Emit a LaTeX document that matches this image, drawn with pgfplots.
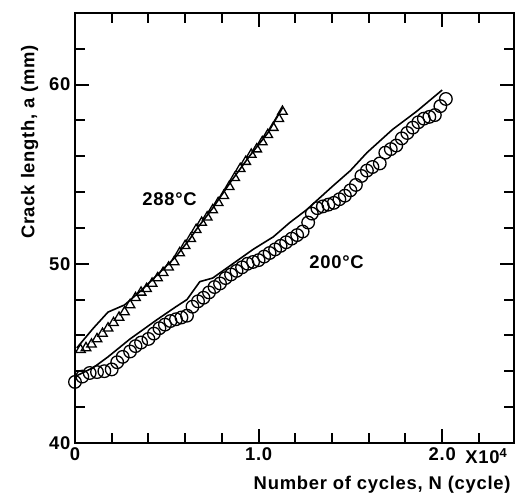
\documentclass[border=0pt]{standalone}
\usepackage{fontspec}
\setmainfont{Liberation Sans}[LetterSpace=4]
\usepackage{pgfplots}
\pgfplotsset{compat=1.18}
\newcommand{\lblfont}{\fontsize{18.5}{22}\selectfont\bfseries}
\begin{document}
\begin{tikzpicture}
\begin{axis}[
  name=ax,
  scale only axis, width=439bp, height=430bp,
  xmin=0, xmax=2.39, ymin=40, ymax=64,
  clip=false,
  axis line style={line width=2.4pt},
  xtick={0,0.2,0.4,0.6,0.8,1.0,1.2,1.4,1.6,1.8,2.0,2.2},
  xticklabels={0,,,,,1.0,,,,,2.0,},
  ytick={40,42,44,46,48,50,52,54,56,58,60,62},
  yticklabels={40,,,,,50,,,,,60,},
  extra x ticks={1.0,2.0}, extra x tick labels={},
  extra y ticks={50,60}, extra y tick labels={},
  extra tick style={major tick length=14bp},
  tick align=inside,
  major tick length=10bp,
  xtick style={line width=2pt, black},
  ytick style={line width=2pt, black},
  /pgf/number format/assume math mode=true,
  tick label style={font=\lblfont},
  xticklabel style={yshift=-1bp},
  yticklabel style={xshift=-1bp},
  xlabel={Number of cycles, N (cycle)},
  ylabel={Crack length, a (mm)},
  label style={font=\lblfont},
  xlabel style={at={(ticklabel cs:0.70)}, anchor=north, yshift=-9bp},
  ylabel style={at={(ticklabel cs:0.70)}, anchor=south, yshift=4bp},
]
% 288 C measured (triangles)
\addplot[only marks, mark=triangle, mark size=5.5bp, mark options={line width=1.3pt, fill=white}] coordinates {
(0.03,45.2)(0.06,45.3)(0.09,45.5)(0.12,45.8)(0.15,46.1)(0.18,46.4)(0.21,46.7)
(0.24,47.0)(0.27,47.3)(0.30,47.7)(0.33,48.1)(0.36,48.4)(0.39,48.6)(0.42,48.9)
(0.45,49.2)(0.48,49.5)(0.51,49.8)(0.54,50.1)(0.57,50.6)(0.60,51.0)(0.63,51.4)
(0.66,51.9)(0.69,52.3)(0.72,52.6)(0.75,53.0)(0.78,53.4)(0.81,53.8)(0.84,54.3)
(0.87,54.8)(0.90,55.3)(0.93,55.7)(0.96,56.1)(0.99,56.4)(1.02,56.8)(1.05,57.2)
(1.08,57.6)(1.11,58.1)(1.13,58.5)
};
% 288 C prediction
\addplot[black, line width=1.6pt] coordinates {
(0.01,45.3)(0.10,46.4)(0.18,47.3)(0.27,47.7)(0.36,48.5)(0.45,49.4)(0.49,49.8)
(0.55,50.4)(0.58,50.8)(0.62,51.3)(0.66,51.9)(0.75,53.1)(0.85,54.6)(0.95,56.0)
(1.05,57.3)(1.13,58.7)
};
% 200 C measured (circles)
\addplot[only marks, mark=o, mark size=6.3bp, mark options={line width=1.3pt, fill=white}] coordinates {
(0.00,43.4)(0.04,43.7)(0.08,43.9)(0.12,43.95)(0.16,44.0)(0.20,44.1)(0.23,44.5)
(0.26,44.8)(0.30,45.1)(0.33,45.4)(0.36,45.6)(0.40,45.8)(0.43,46.1)(0.46,46.4)
(0.49,46.6)(0.52,46.8)(0.55,46.9)(0.58,47.0)(0.61,47.1)(0.64,47.6)(0.67,47.9)
(0.70,48.1)(0.73,48.4)(0.76,48.7)(0.79,48.9)(0.82,49.2)(0.85,49.4)(0.88,49.6)
(0.91,49.8)(0.94,50.0)(0.97,50.1)(1.00,50.2)(1.03,50.4)(1.06,50.6)(1.09,50.8)
(1.12,51.0)(1.15,51.2)(1.18,51.4)(1.21,51.6)(1.24,51.8)(1.27,52.3)(1.29,52.8)
(1.32,53.1)(1.35,53.2)(1.38,53.3)(1.41,53.4)(1.44,53.6)(1.47,53.8)(1.50,54.1)
(1.53,54.4)(1.56,54.9)(1.59,55.2)(1.62,55.4)(1.66,55.6)(1.69,56.2)(1.72,56.4)
(1.75,56.6)(1.78,57.0)(1.81,57.3)(1.84,57.6)(1.87,57.9)(1.90,58.1)(1.93,58.2)
(1.96,58.3)(1.99,58.8)(2.02,59.2)
};
% 200 C prediction
\addplot[black, line width=1.6pt] coordinates {
(0.00,43.7)(0.10,44.2)(0.18,44.8)(0.30,45.8)(0.45,46.9)(0.55,47.6)(0.61,48.0)
(0.68,49.0)(0.75,49.2)(0.86,50.0)(0.97,50.8)(1.08,51.5)(1.17,52.3)(1.26,53.0)
(1.40,54.3)(1.50,55.2)(1.59,56.2)(1.73,57.5)(1.86,58.5)(2.00,59.7)
};
\node[font=\lblfont] at (axis cs:0.515,53.6) {288°C};
\node[font=\lblfont] at (axis cs:1.425,50.1) {200°C};
\node[font=\lblfont, anchor=west, xshift=22bp, yshift=-13bp, inner sep=1bp] at (axis cs:2.0,40) {X10$^{\mathbf{4}}$};
\end{axis}
\path (ax.south west) ++(-75bp,-56bp) coordinate (bl);
\path (ax.north east) ++(1bp,13bp) coordinate (tr);
\path (bl) rectangle (tr);
\end{tikzpicture}
\end{document}
